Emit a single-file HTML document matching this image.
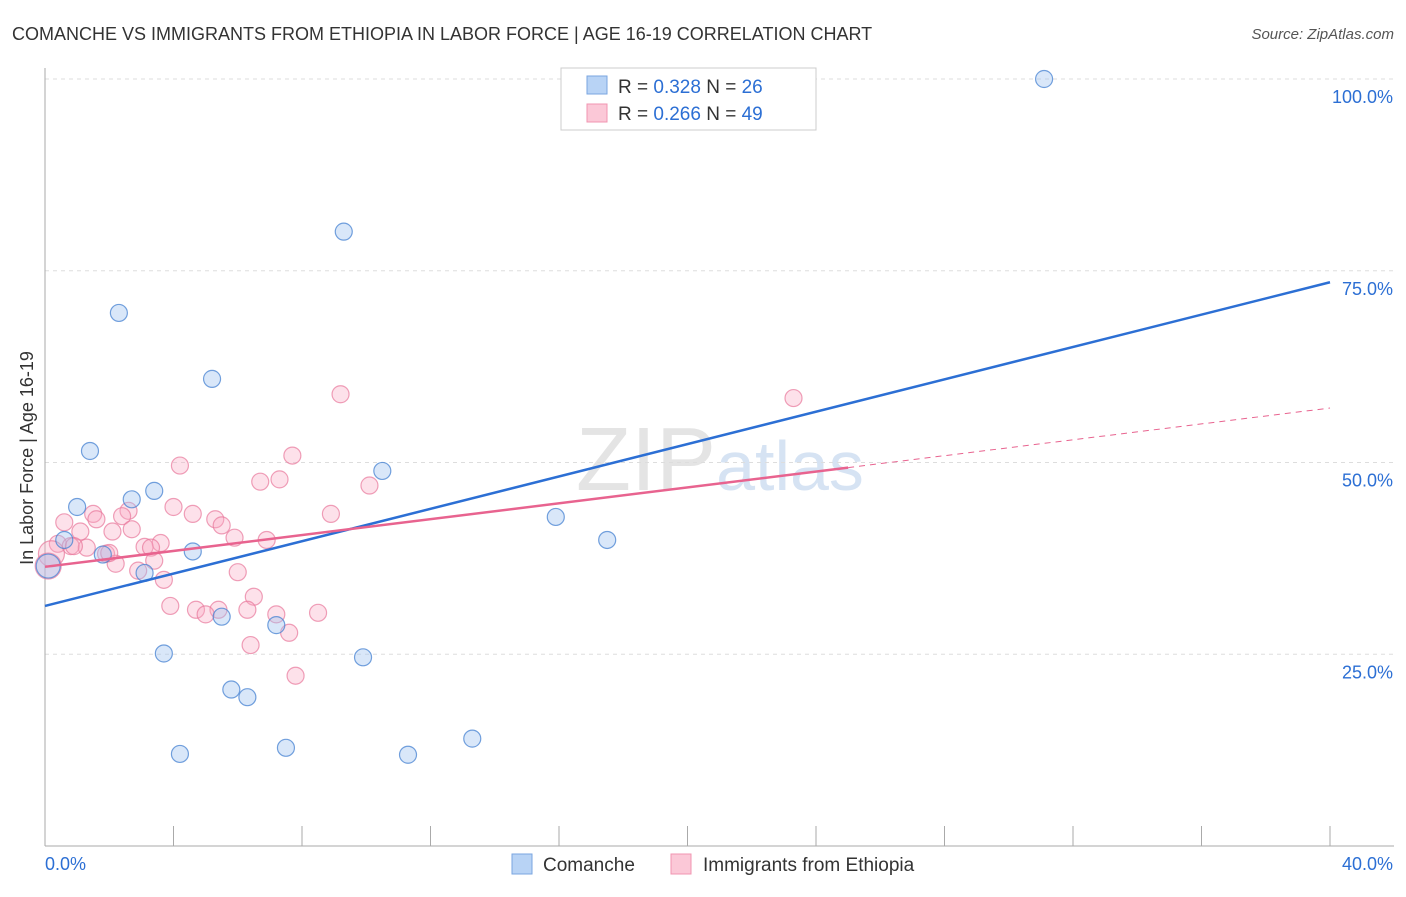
<!DOCTYPE html>
<html><head><meta charset="utf-8">
<style>
body{margin:0;background:#fff;font-family:"Liberation Sans",sans-serif;}
svg text{font-family:"Liberation Sans",sans-serif;}
</style></head><body>
<svg id="c" width="1406" height="892" xmlns="http://www.w3.org/2000/svg">
<text x="12" y="40" font-size="18" fill="#333">COMANCHE VS IMMIGRANTS FROM ETHIOPIA IN LABOR FORCE | AGE 16-19 CORRELATION CHART</text>
<text x="1394" y="39" font-size="15" fill="#555" text-anchor="end" font-style="italic">Source: ZipAtlas.com</text>
<text x="33" y="458" font-size="18" fill="#333" text-anchor="middle" transform="rotate(-90 33 458)">In Labor Force | Age 16-19</text>
<text x="720" y="490" font-size="90" fill="#e4e4e4" text-anchor="middle" font-family="Liberation Serif">ZIP<tspan fill="#d6e3f3" font-family="Liberation Sans" font-size="70">atlas</tspan></text>
<g id="grid"></g><g id="axes"></g><g id="pts"></g><g id="lines"></g>
<g>
<rect x="561" y="68" width="255" height="62" fill="#fff" stroke="#ccc"/>
<rect x="587" y="76" width="20" height="18" fill="#b8d3f5" stroke="#7aa6e0"/>
<rect x="587" y="104" width="20" height="18" fill="#fbc8d7" stroke="#f095b0"/>
<text x="618" y="93" font-size="19" fill="#333">R = <tspan fill="#2c6fd4">0.328</tspan>   N = <tspan fill="#2c6fd4">26</tspan></text>
<text x="618" y="120" font-size="19" fill="#333">R = <tspan fill="#2c6fd4">0.266</tspan>   N = <tspan fill="#2c6fd4">49</tspan></text>
</g>
<g>
<rect x="512" y="854" width="20" height="20" fill="#b8d3f5" stroke="#7aa6e0"/>
<text x="543" y="871" font-size="19" fill="#333">Comanche</text>
<rect x="671" y="854" width="20" height="20" fill="#fbc8d7" stroke="#f095b0"/>
<text x="703" y="871" font-size="19" fill="#333">Immigrants from Ethiopia</text>
</g>
</svg>
<script>
const blueX=[31.1,9.3,2.3,5.2,1.4,10.5,3.4,2.7,1.0,15.9,17.5,0.6,4.6,1.8,3.1,0.1,5.5,7.2,3.7,9.9,5.8,6.3,7.5,4.2,11.3,13.3];
const blueY=[100,80.1,69.5,60.9,51.5,48.9,46.3,45.2,44.2,42.9,39.9,39.9,38.4,38.0,35.6,36.5,29.9,28.8,25.1,24.6,20.4,19.4,12.8,12.0,11.9,14.0];
const pinkX=[9.2,23.3,4.2,7.7,7.3,6.7,10.1,4.0,8.9,4.6,5.3,1.5,1.6,2.6,2.4,0.6,5.5,2.7,1.1,2.1,5.9,6.9,3.6,3.1,3.3,0.4,0.8,1.3,1.9,3.4,2.2,0.2,0.1,6.0,2.9,3.7,6.5,3.9,4.7,5.4,5.0,6.3,7.2,8.5,7.6,6.4,7.8,0.9,2.0];
const pinkY=[58.9,58.4,49.6,50.9,47.8,47.5,47.0,44.2,43.3,43.3,42.6,43.3,42.6,43.7,43.0,42.2,41.8,41.3,41.0,41.0,40.2,39.9,39.5,39.0,38.9,39.4,39.1,38.9,38.1,37.2,36.8,38.1,36.5,35.7,35.9,34.7,32.5,31.3,30.8,30.8,30.2,30.8,30.2,30.4,27.8,26.2,22.2,39.1,38.2];
const xTicks=[0,4,8,12,16,20,24,28,32,36,40];
const yTicks=[25,50,75,100];
const blueFit=[31.3,73.5]; // y at x=0 and x=40
const pinkFit=[36.4,57.1];
const pinkSolidEnd=25;
const X=v=>45+v/40*1285, Y=v=>846-v/100*767;
const NS="http://www.w3.org/2000/svg";
function mk(p,t,a){const e=document.createElementNS(NS,t);for(const k in a)e.setAttribute(k,a[k]);p.appendChild(e);return e;}
const grid=document.getElementById('grid'),axes=document.getElementById('axes'),pts=document.getElementById('pts'),lines=document.getElementById('lines');
yTicks.forEach(t=>{
 const l=mk(grid,'line',{x1:45,x2:1394,y1:Y(t),y2:Y(t),stroke:'#ddd','stroke-dasharray':'4,4'});
 
 
 const tx=mk(grid,'text',{x:1393,y:Y(t)+24,'font-size':18,fill:'#2c6fd4','text-anchor':'end'});tx.textContent=t.toFixed(1)+'%';
 
 
});
mk(axes,'line',{x1:45,x2:45,y1:68,y2:846,stroke:'#aaa'});
mk(axes,'line',{x1:45,x2:1394,y1:846,y2:846,stroke:'#aaa'});
xTicks.forEach(t=>{const l=mk(axes,'line',{x1:X(t),x2:X(t),y1:826,y2:846,stroke:'#aaa'});
 
 });
let a=mk(axes,'text',{x:45,y:870,'font-size':18,fill:'#2c6fd4'});a.textContent=xTicks[0].toFixed(1)+'%';


a=mk(axes,'text',{x:1393,y:870,'font-size':18,fill:'#2c6fd4','text-anchor':'end'});a.textContent=xTicks[xTicks.length-1].toFixed(1)+'%';


pinkX.forEach((x,i)=>{const c=mk(pts,'circle',{cx:X(x),cy:Y(pinkY[i]),r:(x<0.3?13:8.5),fill:'rgba(248,170,195,0.35)',stroke:'rgba(232,120,155,0.7)','stroke-width':1.2});
 
 });
blueX.forEach((x,i)=>{const c=mk(pts,'circle',{cx:X(x),cy:Y(blueY[i]),r:(x<0.3?12:8.5),fill:'rgba(160,195,240,0.4)',stroke:'rgba(70,130,210,0.75)','stroke-width':1.2});
 
 });
const py=x=>pinkFit[0]+(pinkFit[1]-pinkFit[0])*x/40;
let l=mk(lines,'line',{x1:X(0),y1:Y(blueFit[0]),x2:X(40),y2:Y(blueFit[1]),stroke:'#2c6fd4','stroke-width':2.5});


l=mk(lines,'line',{x1:X(0),y1:Y(py(0)),x2:X(pinkSolidEnd),y2:Y(py(pinkSolidEnd)),stroke:'#e8638f','stroke-width':2.5});


l=mk(lines,'line',{x1:X(pinkSolidEnd),y1:Y(py(pinkSolidEnd)),x2:X(40),y2:Y(py(40)),stroke:'#e8638f','stroke-width':1,'stroke-dasharray':'6,5'});


</script>
</body></html>
